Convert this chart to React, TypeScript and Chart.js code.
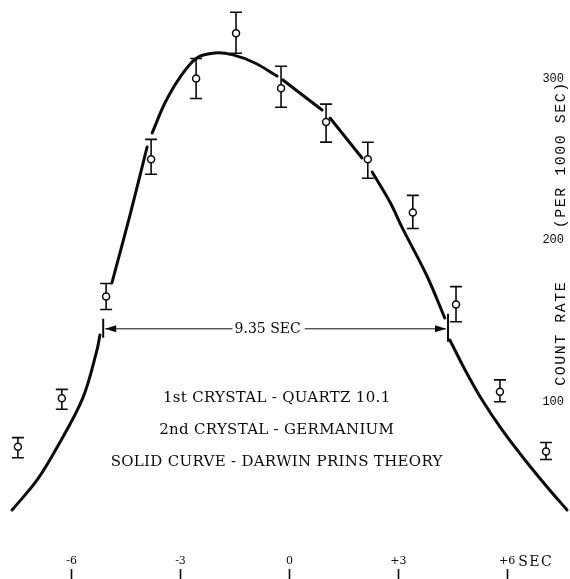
import React, { useEffect, useRef } from 'react';
import { Chart, registerables } from 'chart.js';

Chart.register(...registerables);

// ---------- axes ----------
const X_MIN = -7.973;
const X_MAX = 7.565;
const Y_MIN = 4.33;
const Y_MAX = 348.6;
const X_TICKS = [-6, -3, 0, 3, 6];
const X_TICK_LABELS = ['-6', '-3', '0', '+3', '+6'];
const X_UNIT = 'SEC';
const Y_TICKS = [100, 200, 300];
const Y_TITLE = 'COUNT RATE     (PER 1000 SEC)';
const Y_TITLE_RATE = 204;

// ---------- measured points (angle in sec, count rate per 1000 sec) ----------
const POINT_T = [-7.48, -6.27, -5.05, -3.81, -2.57, -1.47, -0.23, 1.01, 2.16, 3.4, 4.59, 5.8, 7.07];
const POINT_RATE = [72, 102, 165, 250, 300, 328, 294, 273, 250, 217, 160, 106, 69];
const ERR_PLUS = [5.6, 5.5, 8.1, 12.3, 12.4, 13, 13.6, 11.1, 10.5, 10.6, 11.1, 7.4, 5.6];
const ERR_MINUS = [6.8, 6.8, 8.0, 9.3, 12.4, 12.4, 11.8, 12.4, 11.8, 9.9, 10.6, 6.2, 4.9];

// ---------- Darwin-Prins theory curve (null = pen lifted) ----------
const CURVE_T = [
  -7.64, -6.95, -6.38, -5.69, -5.3, -5.22, -5.05, -4.89, -4.39, -3.92, -3.85, -3.78, -3.43, -3.01, -2.55,
  -2.05, -1.55, -0.95, -0.34, -0.26, -0.18, 0.9, 1.01, 1.12, 2.0, 2.14, 2.28, 2.77, 3.1, 3.79, 4.28, 4.35,
  4.42, 4.84, 5.31, 5.86, 6.49, 7.1, 7.65,
];
const CURVE_RATE = [
  32.8, 51.4, 72.4, 102.2, 131.9, 141.2, null, 173.4, 215.5, 257.6, null, 266.3, 284.8, 300.9, 312.7,
  315.8, 314.6, 309.6, 301.5, null, 299.1, 280.5, null, 275.5, 250.8, null, 242.1, 223.5, 208.0, 177.7, 151.7, null,
  138.1, 119.5, 100.9, 82.4, 63.8, 47.1, 32.8,
];

// ---------- annotations ----------
const FWHM_LEFT = -5.13;
const FWHM_RIGHT = 4.37;
const FWHM_RATE = 145;
const FWHM_LABEL = '9.35 SEC';
const FWHM_LABEL_T = -0.6;
const NOTE_LINES = ['1st CRYSTAL - QUARTZ 10.1', '2nd CRYSTAL - GERMANIUM', 'SOLID CURVE - DARWIN PRINS THEORY'];
const NOTE_T = -0.35;
const NOTE_RATES = [102, 82.5, 62.5];

const INK = '#0b0b0b';
const SERIF = '"DejaVu Serif", serif';
const MONO = '"Liberation Mono", monospace';

const annotationPlugin = {
  id: 'annotations',
  beforeDatasetsDraw(chart: any) {
    const { ctx, scales } = chart;
    const xs = scales.x;
    const ys = scales.y;
    ctx.save();
    ctx.strokeStyle = INK;
    ctx.lineWidth = 1.6;
    POINT_T.forEach((t, i) => {
      const px = xs.getPixelForValue(t);
      const top = ys.getPixelForValue(POINT_RATE[i] + ERR_PLUS[i]);
      const bot = ys.getPixelForValue(POINT_RATE[i] - ERR_MINUS[i]);
      ctx.beginPath();
      ctx.moveTo(px, top);
      ctx.lineTo(px, bot);
      ctx.moveTo(px - 6, top);
      ctx.lineTo(px + 6, top);
      ctx.moveTo(px - 6, bot);
      ctx.lineTo(px + 6, bot);
      ctx.stroke();
    });
    ctx.restore();
  },
  afterDraw(chart: any) {
    const { ctx, scales, chartArea } = chart;
    const xs = scales.x;
    const ys = scales.y;
    ctx.save();
    ctx.fillStyle = INK;
    ctx.strokeStyle = INK;

    // FWHM arrow
    const ay = ys.getPixelForValue(FWHM_RATE);
    const xl = xs.getPixelForValue(FWHM_LEFT);
    const xr = xs.getPixelForValue(FWHM_RIGHT);
    ctx.font = `14px ${SERIF}`;
    ctx.textBaseline = 'middle';
    ctx.textAlign = 'center';
    const lx = xs.getPixelForValue(FWHM_LABEL_T);
    const lw = ctx.measureText(FWHM_LABEL).width;
    ctx.fillText(FWHM_LABEL, lx, ay + 1);
    ctx.lineWidth = 1;
    ctx.beginPath();
    ctx.moveTo(xl + 2, ay);
    ctx.lineTo(lx - lw / 2 - 2, ay);
    ctx.moveTo(lx + lw / 2 + 4, ay);
    ctx.lineTo(xr - 2, ay);
    ctx.stroke();
    ctx.beginPath();
    ctx.moveTo(xl + 2, ay);
    ctx.lineTo(xl + 13, ay - 3.5);
    ctx.lineTo(xl + 13, ay + 3.5);
    ctx.closePath();
    ctx.fill();
    ctx.beginPath();
    ctx.moveTo(xr - 2, ay);
    ctx.lineTo(xr - 13, ay - 3.5);
    ctx.lineTo(xr - 13, ay + 3.5);
    ctx.closePath();
    ctx.fill();
    ctx.lineWidth = 2;
    ctx.beginPath();
    ctx.moveTo(xl, ay - 10);
    ctx.lineTo(xl, ay + 9);
    ctx.moveTo(xr, ay - 15);
    ctx.lineTo(xr, ay + 13);
    ctx.stroke();

    // notes
    ctx.font = `15px ${SERIF}`;
    (ctx as any).letterSpacing = '0.3px';
    ctx.textAlign = 'center';
    ctx.textBaseline = 'middle';
    const nx = xs.getPixelForValue(NOTE_T);
    NOTE_LINES.forEach((line, i) => {
      ctx.fillText(line, nx, ys.getPixelForValue(NOTE_RATES[i]));
    });

    // x unit
    ctx.font = `14px ${SERIF}`;
    (ctx as any).letterSpacing = '1.5px';
    ctx.textAlign = 'left';
    ctx.fillText(X_UNIT, xs.getPixelForValue(X_TICKS[X_TICKS.length - 1]) + 11, chartArea.bottom + 6);

    // y title (reads bottom to top)
    ctx.font = `15px ${MONO}`;
    (ctx as any).letterSpacing = '1.5px';
    ctx.translate(chartArea.right - 3, ys.getPixelForValue(Y_TITLE_RATE));
    ctx.rotate(-Math.PI / 2);
    ctx.textAlign = 'center';
    ctx.fillText(Y_TITLE, 0, 0);
    ctx.restore();
  },
};

export default function App() {
  const ref = useRef<HTMLCanvasElement | null>(null);
  useEffect(() => {
    if (!ref.current) return;
    const curve = CURVE_T.map((t, i) => ({ x: t, y: CURVE_RATE[i] }));
    const pts = POINT_T.map((t, i) => ({ x: t, y: POINT_RATE[i] }));
    const tickSetter = (s: any) => {
      s.ticks = X_TICKS.map((v) => ({ value: v }));
    };
    const chart = new Chart(ref.current, {
      type: 'scatter',
      data: {
        datasets: [
          {
            type: 'line',
            data: curve as any,
            borderColor: INK,
            borderWidth: 3,
            pointRadius: 0,
            tension: 0.35,
            spanGaps: false,
            fill: false,
            clip: false,
            borderCapStyle: 'round',
            order: 2,
          } as any,
          {
            type: 'scatter',
            data: pts,
            pointRadius: 3.5,
            pointBackgroundColor: '#ffffff',
            pointBorderColor: INK,
            pointBorderWidth: 1.5,
            clip: false,
            order: 1,
          } as any,
        ],
      },
      options: {
        animation: false,
        responsive: false,
        maintainAspectRatio: false,
        layout: { padding: 0, autoPadding: false },
        plugins: { legend: { display: false }, tooltip: { enabled: false } },
        scales: {
          x: {
            type: 'linear',
            position: 'bottom',
            weight: 0,
            min: X_MIN,
            max: X_MAX,
            afterBuildTicks: tickSetter,
            afterFit: (s: any) => {
              s.height = 13;
              s.paddingLeft = 0;
              s.paddingRight = 0;
            },
            grid: { display: false, drawTicks: false },
            border: { display: false },
            ticks: {
              autoSkip: false,
              maxRotation: 0,
              padding: -1,
              color: INK,
              font: { family: SERIF, size: 11 },
              callback: (v: any) => X_TICK_LABELS[X_TICKS.indexOf(Number(v))] ?? '',
            },
          },
          xTickMarks: {
            type: 'linear',
            position: 'bottom',
            weight: 1,
            min: X_MIN,
            max: X_MAX,
            afterBuildTicks: tickSetter,
            afterFit: (s: any) => {
              s.height = 10;
              s.paddingLeft = 0;
              s.paddingRight = 0;
            },
            grid: { drawOnChartArea: false, drawTicks: true, tickLength: 10, tickColor: INK, tickWidth: 1.6 },
            border: { display: false },
            ticks: { display: false },
          },
          y: {
            type: 'linear',
            position: 'right',
            min: Y_MIN,
            max: Y_MAX,
            afterBuildTicks: (s: any) => {
              s.ticks = Y_TICKS.map((v) => ({ value: v }));
            },
            afterFit: (s: any) => {
              s.width = 6;
              s.paddingTop = 0;
              s.paddingBottom = 0;
            },
            grid: { display: false, drawTicks: false },
            border: { display: false },
            ticks: {
              mirror: true,
              padding: 0,
              color: INK,
              font: { family: MONO, size: 12 },
            },
          },
        },
      } as any,
      plugins: [annotationPlugin],
    });
    return () => chart.destroy();
  }, []);
  return (
    <div style={{ position: 'absolute', left: 0, top: 0, width: 570, height: 579, background: '#fff' }}>
      <canvas ref={ref} width={570} height={579} style={{ display: 'block' }} />
    </div>
  );
}
